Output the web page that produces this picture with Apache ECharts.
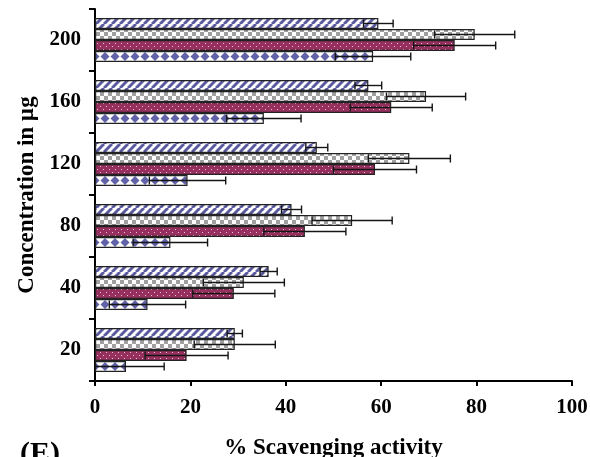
<!DOCTYPE html>
<html>
<head>
<meta charset="utf-8">
<script src="https://cdn.jsdelivr.net/npm/echarts@6/dist/echarts.min.js"></script>
<style>
  html, body { margin: 0; padding: 0; background: #fff; }
  #chart { width: 590px; height: 457px; }
</style>
</head>
<body>
<div id="chart"></div>
<script>
// Concentration groups (bottom to top)
const categories = ['20', '40', '80', '120', '160', '200'];

// % scavenging activity per sample and its standard deviation
const hatchedValues = [29.3, 36.4, 41.2, 46.5, 57.3, 59.4];
const hatchedErrors = [1.6, 1.8, 2.1, 2.3, 2.8, 3.1];
const checkerValues = [29.3, 31.2, 53.9, 65.9, 69.4, 79.6];
const checkerErrors = [8.5, 8.5, 8.4, 8.6, 8.3, 8.4];
const dottedValues = [19.2, 29.1, 44.0, 58.7, 62.1, 75.4];
const dottedErrors = [8.7, 8.6, 8.6, 8.7, 8.6, 8.6];
const diamondValues = [6.5, 11.0, 15.8, 19.4, 35.4, 58.3];
const diamondErrors = [8.0, 8.0, 7.8, 8.0, 7.8, 7.9];

const xTicks = { min: 0, max: 100, interval: 20 };

// layout
const GRID_TOP = 9, GRID_BOTTOM = 76, GRID_LEFT = 95, GRID_RIGHT = 18;
const CHART_H = 457;
const BAND = (CHART_H - GRID_TOP - GRID_BOTTOM) / categories.length;
const BAR_W = 11;
const FONT = 'Liberation Serif';

function tile(w, h, draw) {
  const c = document.createElement('canvas');
  c.width = w; c.height = h;
  draw(c.getContext('2d'));
  return c;
}

// diagonal blue hatch
const hatchTile = tile(8, 8, g => {
  g.fillStyle = '#ffffff'; g.fillRect(0, 0, 8, 8);
  g.strokeStyle = '#5a5aa0'; g.lineWidth = 3;
  for (const k of [-8, 0, 8]) { g.beginPath(); g.moveTo(k, 8); g.lineTo(k + 8, 0); g.stroke(); }
});
// grey checkerboard
const checkerTile = tile(8, 8, g => {
  g.fillStyle = '#ffffff'; g.fillRect(0, 0, 8, 8);
  g.fillStyle = '#a0a0a0'; g.fillRect(0, 0, 4, 4); g.fillRect(4, 4, 4, 4);
});
// maroon with small white dots
const dottedTile = tile(6, 6, g => {
  g.fillStyle = '#98305f'; g.fillRect(0, 0, 6, 6);
  g.fillStyle = '#e9c3d6'; g.fillRect(1, 1, 1, 1); g.fillRect(4, 4, 1, 1);
});
// chain of blue diamonds, centred on the bottom bar of each group
const diamondCenter = (GRID_TOP + BAND / 2 + 2 * BAR_W - BAR_W / 2) % BAND;
const diamondTile = tile(10, Math.round(BAND), g => {
  g.fillStyle = '#ffffff'; g.fillRect(0, 0, 10, Math.round(BAND));
  g.fillStyle = '#6262a8';
  g.beginPath();
  g.moveTo(5, diamondCenter - 4.5); g.lineTo(9.5, diamondCenter);
  g.lineTo(5, diamondCenter + 4.5); g.lineTo(0.5, diamondCenter);
  g.closePath(); g.fill();
});

function barSeries(name, values, img) {
  return {
    name, type: 'bar', data: values, barWidth: BAR_W, barGap: '0%',
    itemStyle: { color: { image: img, repeat: 'repeat' }, borderColor: '#222', borderWidth: 1.2 },
    z: 2
  };
}

function errorSeries(values, errors, offset) {
  return {
    type: 'custom', z: 5, silent: true,
    data: values.map((v, i) => [v, i, errors[i]]),
    encode: { x: 0, y: 1 },
    renderItem: (params, api) => {
      const v = api.value(0), c = api.value(1), e = api.value(2);
      const a = api.coord([Math.max(0, v - e), c]);
      const b = api.coord([v + e, c]);
      const y = a[1] + offset;
      const style = { stroke: '#151515', lineWidth: 1.4 };
      return {
        type: 'group',
        children: [
          { type: 'line', shape: { x1: a[0], y1: y, x2: b[0], y2: y }, style },
          { type: 'line', shape: { x1: a[0], y1: y - 4, x2: a[0], y2: y + 4 }, style },
          { type: 'line', shape: { x1: b[0], y1: y - 4, x2: b[0], y2: y + 4 }, style }
        ]
      };
    }
  };
}

const labelStyle = { color: '#000', fontFamily: FONT, fontWeight: 'bold', fontSize: 21 };

const option = {
  animation: false,
  grid: {
    top: GRID_TOP, bottom: GRID_BOTTOM, left: GRID_LEFT, right: GRID_RIGHT,
    containLabel: false, outerBoundsMode: 'none'
  },
  xAxis: {
    type: 'value', min: xTicks.min, max: xTicks.max, interval: xTicks.interval,
    name: '% Scavenging activity', nameLocation: 'middle', nameGap: 56,
    nameTextStyle: { color: '#000', fontFamily: FONT, fontWeight: 'bold', fontSize: 23 },
    axisLine: { show: true, lineStyle: { color: '#000', width: 2 } },
    axisTick: { show: true, length: 5, lineStyle: { color: '#000', width: 2 } },
    splitLine: { show: false },
    axisLabel: Object.assign({ margin: 16 }, labelStyle)
  },
  yAxis: {
    type: 'category', data: categories,
    name: 'Concentration in µg', nameLocation: 'middle', nameGap: 56,
    nameTextStyle: { color: '#000', fontFamily: FONT, fontWeight: 'bold', fontSize: 23 },
    axisLine: { show: true, lineStyle: { color: '#000', width: 2 } },
    axisTick: { show: true, length: 6, alignWithLabel: false, lineStyle: { color: '#000', width: 2 } },
    splitLine: { show: false },
    axisLabel: Object.assign({ margin: 14 }, labelStyle)
  },
  graphic: [{
    type: 'text', left: 20, top: 439,
    style: { text: '(E)', fill: '#000', font: 'bold 30px "Liberation Serif"' }
  }],
  // first bar series is drawn at the top of each group
  series: [
    barSeries('Sample 1', hatchedValues, hatchTile),
    barSeries('Sample 2', checkerValues, checkerTile),
    barSeries('Sample 3', dottedValues, dottedTile),
    barSeries('Sample 4', diamondValues, diamondTile),
    errorSeries(hatchedValues, hatchedErrors, -1.5 * BAR_W),
    errorSeries(checkerValues, checkerErrors, -0.5 * BAR_W),
    errorSeries(dottedValues, dottedErrors, 0.5 * BAR_W),
    errorSeries(diamondValues, diamondErrors, 1.5 * BAR_W)
  ]
};

echarts.init(document.getElementById('chart'), null, { renderer: 'canvas' }).setOption(option);
</script>
</body>
</html>
